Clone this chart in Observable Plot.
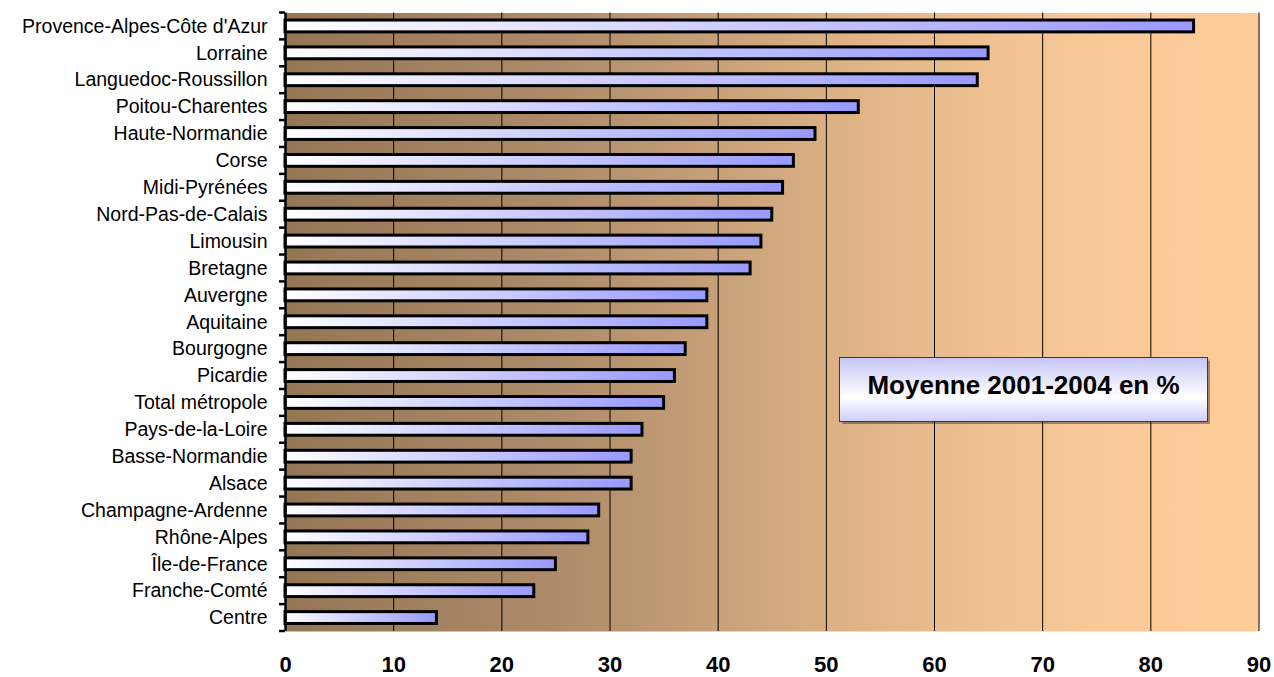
<!DOCTYPE html>
<html>
<head>
<meta charset="utf-8">
<script src="https://cdn.jsdelivr.net/npm/d3@7"></script>
<script src="https://cdn.jsdelivr.net/npm/@observablehq/plot@0.6"></script>
<style>
html, body { margin: 0; padding: 0; background: #ffffff; }
#wrap { position: relative; width: 1274px; height: 677px; overflow: hidden; }
#note {
  position: absolute; left: 839px; top: 357px; width: 367px;
  border: 1.5px solid #3a3a3a;
  background: linear-gradient(to bottom, #c6c6f8 0%, #ffffff 62%, #cfcffd 100%);
  box-shadow: 1.5px 1.5px 1px rgba(0,0,0,0.35);
  font: bold 26px "Liberation Sans", Arial, sans-serif; color: #000;
  display: flex; align-items: center; justify-content: center;
  padding-bottom: 9px; box-sizing: content-box; height: 54px;
}
</style>
</head>
<body>
<div id="wrap"></div>
<script>
const regions = [
  "Provence-Alpes-Côte d'Azur", "Lorraine", "Languedoc-Roussillon", "Poitou-Charentes",
  "Haute-Normandie", "Corse", "Midi-Pyrénées", "Nord-Pas-de-Calais", "Limousin",
  "Bretagne", "Auvergne", "Aquitaine", "Bourgogne", "Picardie", "Total métropole",
  "Pays-de-la-Loire", "Basse-Normandie", "Alsace", "Champagne-Ardenne", "Rhône-Alpes",
  "Île-de-France", "Franche-Comté", "Centre"
];
const values = [84, 65, 64, 53, 49, 47, 46, 45, 44, 43, 39, 39, 37, 36, 35, 33, 32, 32, 29, 28, 25, 23, 14];
const xTicks = [0, 10, 20, 30, 40, 50, 60, 70, 80, 90];
const noteText = "Moyenne 2001-2004 en %";

const data = regions.map((r, i) => ({region: r, value: values[i]}));

function defsMark() {
  const defs = d3.create("svg:defs");
  const bg = defs.append("linearGradient").attr("id", "bgGrad")
    .attr("x1", 0).attr("y1", 0).attr("x2", 1).attr("y2", 0);
  [["0%", "#947655"], ["28%", "#ae8b6a"], ["59%", "#dfb487"], ["73%", "#f0c292"],
   ["84%", "#f9c997"], ["100%", "#ffcc99"]].forEach(([o, c]) =>
    bg.append("stop").attr("offset", o).attr("stop-color", c));
  const bar = defs.append("linearGradient").attr("id", "barGrad")
    .attr("x1", 0).attr("y1", 0).attr("x2", 1).attr("y2", 0);
  bar.append("stop").attr("offset", "0%").attr("stop-color", "#ffffff");
  bar.append("stop").attr("offset", "100%").attr("stop-color", "#9999ff");
  return defs.node();
}

function boundaryTicks(index, scales, values, dims) {
  const y = scales.y;
  const x = scales.x;
  const bw = typeof y.bandwidth === "function" ? y.bandwidth() : y.bandwidth;
  const step = typeof y.step === "function" ? y.step() : y.step;
  const dom = y.domain();
  const x0 = x(0);
  const ys = dom.map(c => y(c) + bw / 2 - step / 2);
  ys.push(y(dom[dom.length - 1]) + bw / 2 + step / 2);
  const g = d3.create("svg:g").attr("stroke", "black").attr("stroke-width", 2.5);
  for (const yy of ys) {
    g.append("line").attr("x1", x0 - 6).attr("x2", x0).attr("y1", yy).attr("y2", yy);
  }
  return g.node();
}

const chart = Plot.plot({
  width: 1274,
  height: 677,
  marginLeft: 285,
  marginRight: 15.5,
  marginTop: 12.5,
  marginBottom: 46,
  style: {fontFamily: "'Liberation Sans', Arial, sans-serif", background: "transparent", color: "black"},
  x: {domain: [0, 90]},
  y: {domain: regions, paddingInner: 0.56, paddingOuter: 0.28, round: false},
  marks: [
    defsMark,
    Plot.frame({fill: "url(#bgGrad)", stroke: null}),
    Plot.gridX({ticks: xTicks.slice(1), stroke: "black", strokeOpacity: 1, strokeWidth: 1}),
    Plot.barX(data, {x: "value", y: "region", fill: "url(#barGrad)", stroke: "black", strokeWidth: 3}),
    Plot.ruleX([0], {stroke: "black", strokeWidth: 2.5}),
    boundaryTicks,
    Plot.axisY({tickSize: 0, tickPadding: 18, fontSize: 19.5, label: null}),
    Plot.axisX({ticks: xTicks, tickSize: 0, tickPadding: 25, fontSize: 22, fontWeight: "bold", label: null})
  ]
});

const wrap = document.getElementById("wrap");
wrap.appendChild(chart);
const note = document.createElement("div");
note.id = "note";
note.textContent = noteText;
wrap.appendChild(note);
</script>
</body>
</html>
